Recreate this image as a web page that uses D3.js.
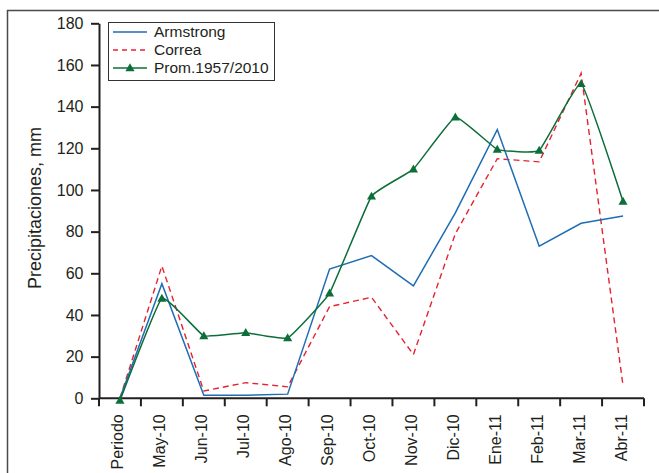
<!DOCTYPE html>
<html>
<head>
<meta charset="utf-8">
<script src="https://cdn.jsdelivr.net/npm/d3@7"></script>
<style>
  html, body { margin: 0; padding: 0; background: #fff; }
  svg { display: block; }
  text { font-family: "Liberation Sans", Arial, sans-serif; fill: #231f20; }
</style>
</head>
<body>
<svg id="chart" width="659" height="473"></svg>
<script>
const categories = ["Periodo","May-10","Jun-10","Jul-10","Ago-10","Sep-10","Oct-10","Nov-10","Dic-10","Ene-11","Feb-11","Mar-11","Abr-11"];
const armstrong = [0, 55, 1.5, 1.5, 2, 62, 68.5, 54, 89, 129, 73, 84, 87.5];
const correa    = [0, 63.5, 3.5, 7.5, 5.5, 44, 48.5, 21, 79, 115, 113.5, 156, 6];
const prom      = [-1, 48, 30, 31.5, 29, 50.5, 97, 110, 135, 119.5, 119, 151, 94.5];
const yTicks = [0, 20, 40, 60, 80, 100, 120, 140, 160, 180];
const seriesNames = ["Armstrong", "Correa", "Prom.1957/2010"];
const yTitle = "Precipitaciones, mm";

const svg = d3.select("#chart");
const blue = "#1f6db4", red = "#e52330", green = "#0c6e38", ink = "#231f20";

// outer frame
svg.append("rect").attr("x", 7.5).attr("y", 10.5).attr("width", 700).attr("height", 500)
  .attr("fill", "none").attr("stroke", "#4a4a4a").attr("stroke-width", 1.5);

const x = d3.scaleBand().domain(categories).range([99, 644]).padding(0);
const y = d3.scaleLinear().domain([0, 180]).range([398.3, 23.3]);
const cx = c => x(c) + x.bandwidth() / 2;

// y axis
const yAxis = svg.append("g").attr("transform", "translate(99,0)")
  .call(d3.axisLeft(y).tickValues(yTicks).tickSize(8).tickPadding(7.5).tickSizeOuter(0));
yAxis.select(".domain").attr("stroke", ink).attr("stroke-width", 2);
yAxis.selectAll(".tick line").attr("stroke", ink).attr("stroke-width", 2);
yAxis.selectAll(".tick text").attr("font-size", 16).attr("fill", ink)
  .style("font-family", "'Liberation Sans', Arial, sans-serif");

// x axis with ticks at band boundaries
const xAxis = svg.append("g").attr("transform", `translate(0,${y(0)})`);
xAxis.append("line").attr("x1", 99).attr("x2", 644).attr("y1", 0).attr("y2", 0)
  .attr("stroke", ink).attr("stroke-width", 2);
const bounds = categories.map(c => x(c)).concat([x.range()[1]]);
xAxis.selectAll("line.tk").data(bounds).enter().append("line").attr("class", "tk")
  .attr("x1", d => d).attr("x2", d => d).attr("y1", 0).attr("y2", 8)
  .attr("stroke", ink).attr("stroke-width", 2);
xAxis.selectAll("text.lbl").data(categories).enter().append("text").attr("class", "lbl")
  .attr("transform", d => `translate(${cx(d) + 3.5},16) rotate(-90)`)
  .attr("text-anchor", "end").attr("font-size", 16).attr("fill", ink)
  .text(d => d);

// y title
svg.append("text")
  .attr("transform", `translate(41,208) rotate(-90)`)
  .attr("text-anchor", "middle").attr("font-size", 18).attr("fill", ink)
  .text(yTitle);

// lines
const line = d3.line().x((d, i) => cx(categories[i])).y(d => y(d));
svg.append("path").datum(correa).attr("d", line).attr("fill", "none")
  .attr("stroke", red).attr("stroke-width", 1.4).attr("stroke-dasharray", "6,4");
svg.append("path").datum(armstrong).attr("d", line).attr("fill", "none")
  .attr("stroke", blue).attr("stroke-width", 1.5);
const smooth = d3.line().x((d, i) => cx(categories[i])).y(d => y(d)).curve(d3.curveCardinal.tension(0.7));
svg.append("path").datum(prom).attr("d", smooth).attr("fill", "none")
  .attr("stroke", green).attr("stroke-width", 1.5);
const tri = d3.symbol(d3.symbolTriangle, 36);
svg.selectAll("path.mk").data(prom).enter().append("path").attr("class", "mk")
  .attr("d", tri).attr("fill", green)
  .attr("transform", (d, i) => `translate(${cx(categories[i])},${y(d) + 0.7})`);

// legend
const lg = svg.append("g");
lg.append("rect").attr("x", 108.5).attr("y", 22.5).attr("width", 166).attr("height", 58)
  .attr("fill", "#fff").attr("stroke", "#333").attr("stroke-width", 1);
const lgY = [32, 50, 68];
const styles = [
  { c: blue, dash: null },
  { c: red, dash: "5,4" },
  { c: green, dash: null }
];
seriesNames.forEach((name, i) => {
  lg.append("line").attr("x1", 113).attr("x2", 147).attr("y1", lgY[i]).attr("y2", lgY[i])
    .attr("stroke", styles[i].c).attr("stroke-width", 1.5)
    .attr("stroke-dasharray", styles[i].dash);
  if (i === 2) {
    lg.append("path").attr("d", tri).attr("fill", green)
      .attr("transform", `translate(130,${lgY[i] + 0.5})`);
  }
  lg.append("text").attr("x", 154).attr("y", lgY[i]).attr("dy", "0.35em")
    .attr("font-size", 15.5).attr("fill", ink).text(name);
});
</script>
</body>
</html>
